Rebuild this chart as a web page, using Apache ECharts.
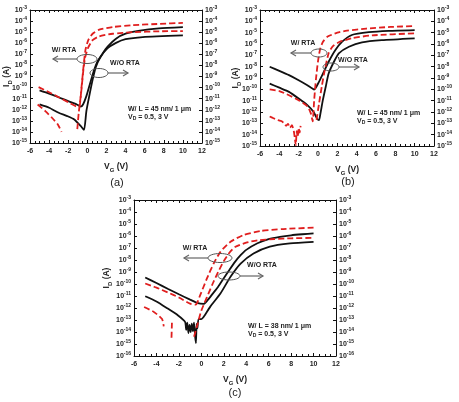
<!DOCTYPE html>
<html>
<head>
<meta charset="utf-8">
<script src="https://cdn.jsdelivr.net/npm/echarts@6/dist/echarts.min.js"></script>
<style>
  html, body { margin: 0; padding: 0; background: #fff; }
  #chart { width: 459px; height: 402px; }
</style>
</head>
<body>
<div id="chart"></div>
<script>
// ---- data: [VG (V), ID (A)] ----
// (a) W/L = 45 nm / 1 um
const aNoRta3V = [[-5, 5.6e-11], [-4, 2.9e-11], [-3, 1.35e-11], [-2, 5.9e-12], [-1.1, 3e-12], [-0.7, 1.9e-12], [-0.45, 3e-12], [-0.1, 1.7e-11], [0.25, 1.8e-10], [0.6, 2e-9], [1.05, 2.2e-8], [1.6, 1.2e-7], [2.1, 4.7e-7], [3, 2.6e-6], [4, 7.3e-6], [5.5, 1.4e-5], [7.5, 2.2e-5], [10, 2.9e-5]];
const aNoRta05V = [[-5, 3e-12], [-4, 1.5e-12], [-3, 5.4e-13], [-2.1, 2.7e-13], [-1.4, 1.4e-13], [-0.7, 3.5e-14], [-0.35, 1.5e-14], [-0.1, 7.6e-13], [0.2, 1.7e-11], [0.55, 5e-10], [0.9, 7.8e-9], [1.4, 6e-8], [2.1, 3.4e-7], [3, 1.07e-6], [4, 2.3e-6], [5.8, 3.6e-6], [10, 5.1e-6]];
const aRta3V = [[-5.1, 1.1e-10], [-4, 3.8e-11], [-3, 1.35e-11], [-2, 4.8e-12], [-1.05, 1.9e-12], [-0.8, 2.4e-12], [-0.6, 1.3e-10], [-0.4, 7.8e-9], [-0.2, 2.4e-7], [0.1, 1.9e-6], [0.55, 7.2e-6], [1.25, 1.66e-5], [2.65, 2.9e-5], [4.8, 4.3e-5], [7.6, 5.6e-5], [10, 6.9e-5]];
const aRta05V = [[-5.2, 3e-12], [-4.4, 7.6e-13], [-3.7, 1.9e-13], [-3.1, 4.9e-14], [-2.7, 1e-14], [-2.5, null], [-1.05, 1.8e-14], [-0.9, 5.4e-13], [-0.65, 3.3e-11], [-0.45, 2e-9], [-0.25, 4.3e-8], [0.05, 3.4e-7], [0.55, 1.9e-6], [1.25, 4.2e-6], [2.65, 7.2e-6], [4.8, 1e-5], [7.6, 1.2e-5], [10, 1.26e-5]];

// (b) W/L = 45 nm / 1 um
const bNoRta3V = [[-5, 9.8e-9], [-4, 4.3e-9], [-3, 1.8e-9], [-2, 6.4e-10], [-1.1, 2.3e-10], [-0.4, 9.6e-11], [0.1, 4.6e-10], [0.6, 3.5e-9], [1.1, 2.7e-8], [1.8, 2.9e-7], [2.5, 1.6e-6], [3.5, 6.2e-6], [5.25, 1.1e-5], [7.3, 1.45e-5], [10, 1.7e-5]];
const bNoRta05V = [[-5, 3.2e-10], [-4, 1.4e-10], [-3, 6e-11], [-2, 1.55e-11], [-1.1, 4e-12], [-0.45, 1e-12], [-0.1, 2.6e-13], [0.1, 1.9e-13], [0.25, 7.2e-13], [0.5, 1.1e-11], [0.8, 1.7e-10], [1.1, 2.5e-9], [1.65, 2.7e-8], [2.15, 1.5e-7], [3.2, 5.7e-7], [4.55, 1.4e-6], [6.6, 2.2e-6], [10, 3.2e-6]];
const bRta3V = [[-5, 1e-10], [-4, 7e-11], [-3, 3e-11], [-2, 1.1e-11], [-1.1, 3.2e-12], [-0.75, 8e-13], [-0.55, 1.5e-13], [-0.4, 1e-11], [-0.2, 1e-9], [0, 3e-8], [0.2, 3e-7], [0.5, 1.5e-6], [1, 4.5e-6], [2, 1e-5], [3, 1.5e-5], [5, 2.3e-5], [7.5, 3.2e-5], [10, 3.8e-5]];
const bRta05V = [[-5, 4e-13], [-4.6, 2.8e-13], [-4.2, 2e-13], [-3.8, 1.6e-13], [-3.5, 1e-13], [-3.3, 6e-14], [-3.1, 9e-14], [-2.9, 4e-14], [-2.7, 7e-14], [-2.5, 2e-14], [-2.4, 5e-15], [-2.3, 1.2e-15], [-2.2, 2e-14], [-2.1, 6e-15], [-2, 4e-14], [-1.9, 1.5e-14], [-1.8, 6e-14], [-1.7, null], [-0.15, 2e-13], [0.1, 5e-12], [0.4, 2e-10], [0.7, 5e-9], [1.1, 1.5e-7], [1.5, 6e-7], [2.2, 1.5e-6], [3.5, 3.2e-6], [5.6, 5.8e-6], [10, 8.7e-6]];

// (c) W/L = 38 nm / 1 um
const cNoRta3V = [[-5, 3.5e-10], [-4, 1.2e-10], [-3, 4e-11], [-2, 1.4e-11], [-1, 5e-12], [-0.3, 2.5e-12], [0.2, 2.2e-12], [0.6, 5e-12], [1, 1.5e-11], [1.5, 6e-11], [2, 3e-10], [2.5, 1.5e-9], [3, 7e-9], [3.5, 2.5e-8], [4, 7e-8], [5, 2.5e-7], [6, 5.5e-7], [7, 8.5e-7], [8, 1.15e-6], [9, 1.4e-6], [10, 1.65e-6]];
const cNoRta05V = [[-5, 9.5e-12], [-4, 3.5e-12], [-3, 9e-13], [-2.1, 2.5e-13], [-1.45, 7e-14], [-1.35, 1.5e-14], [-1.25, 6e-14], [-1.15, 8e-15], [-1.05, 4e-14], [-0.95, 1e-14], [-0.85, 5e-14], [-0.75, 1.2e-14], [-0.65, 6e-14], [-0.55, 4e-15], [-0.48, 1.2e-15], [-0.42, 5e-14], [-0.35, 2e-14], [-0.25, 1.2e-13], [0, 1.2e-13], [0.2, 1.8e-13], [0.8, 1.3e-12], [1.7, 1.6e-11], [2.6, 4e-10], [3.5, 5e-9], [4.65, 3.5e-8], [6.1, 1.3e-7], [7.9, 2.4e-7], [10, 3.3e-7]];
const cRta3V = [[-5, 1.1e-10], [-4, 5e-11], [-3, 2e-11], [-2, 7.5e-12], [-1, 2.3e-12], [-0.5, 1.9e-12], [-0.1, 1.2e-11], [0.5, 2.9e-10], [1.1, 5.1e-9], [1.7, 4.8e-8], [2.6, 3.3e-7], [3.75, 1.2e-6], [5.25, 2.6e-6], [7.3, 3.8e-6], [10, 5e-6]];
const cRta05V = [[-5.1, 1.2e-12], [-4.2, 4.5e-13], [-3.5, 1.2e-13], [-3.35, 3e-14], [-3, null], [-2.62, 6e-14], [-2.66, 2.8e-15], [-2, null], [-0.65, 4e-15], [-0.3, 6e-14], [0, 6e-13], [0.5, 8e-12], [1, 1e-10], [1.5, 1e-9], [2, 8e-9], [2.5, 4e-8], [3, 1.2e-7], [4, 2.8e-7], [5, 4.3e-7], [6.5, 5.6e-7], [8, 6.4e-7], [10, 7e-7]];

const xTicks = { min: -6, max: 12, step: 2 };
const panelDecades = [[1e-15, 1e-3], [1e-15, 1e-3], [1e-16, 1e-3]];
const panelLabels = ['(a)', '(b)', '(c)'];
const devices = ['W/ L = 45 nm/ 1 \u03bcm', 'W/ L = 45 nm/ 1 \u03bcm', 'W/ L = 38 nm/ 1 \u03bcm'];

// ---- layout ----
const FONT = 'Liberation Sans, Arial, sans-serif';
const grids = [
  { left: 30, top: 10, width: 172, height: 133 },
  { left: 260, top: 10, width: 174, height: 136 },
  { left: 134, top: 200, width: 202, height: 156 }
];
const yNameGap = [17, 18, 21];

const tickRich = {
  b: { fontSize: 7, fontWeight: 'bold', color: '#222', fontFamily: FONT, lineHeight: 10 },
  s: { fontSize: 5, fontWeight: 'bold', color: '#222', fontFamily: FONT, lineHeight: 6, verticalAlign: 'top' }
};
function decadeLabel(v) {
  return '{b|10}{s|' + Math.round(Math.log10(v)) + '}';
}
const nameRich = {
  m: { fontSize: 8.5, fontWeight: 'bold', color: '#222', fontFamily: FONT, lineHeight: 12 },
  sub: { fontSize: 6, fontWeight: 'bold', color: '#222', fontFamily: FONT, lineHeight: 6, verticalAlign: 'bottom' }
};

const xAxes = [], yAxes = [];
grids.forEach(function (g, i) {
  const frameLine = { show: true, onZero: false, lineStyle: { color: '#111', width: 1 } };
  xAxes.push({
    type: 'value', gridIndex: i, position: 'bottom',
    min: xTicks.min, max: xTicks.max, interval: xTicks.step,
    axisLine: frameLine,
    axisTick: { inside: true, length: 3, lineStyle: { color: '#111' } },
    minorTick: { show: true, splitNumber: 4, length: 2, lineStyle: { color: '#111' } },
    splitLine: { show: false },
    axisLabel: { fontSize: 7, fontWeight: 'bold', color: '#222', fontFamily: FONT, margin: 5 },
    name: '{m|V}{sub|G}{m| (V)}', nameLocation: 'middle', nameGap: 18, nameMoveOverlap: false,
    nameTextStyle: { rich: nameRich }
  });
  xAxes.push({
    type: 'value', gridIndex: i, position: 'top',
    min: xTicks.min, max: xTicks.max, interval: xTicks.step,
    axisLine: frameLine,
    axisTick: { inside: true, length: 3, lineStyle: { color: '#111' } },
    minorTick: { show: true, splitNumber: 4, length: 2, lineStyle: { color: '#111' } },
    splitLine: { show: false },
    axisLabel: { show: false }
  });
  const ext = panelDecades[i];
  const nDec = Math.round(Math.log10(ext[1] / ext[0]));
  [ 'left', 'right' ].forEach(function (pos) {
    yAxes.push({
      type: 'log', logBase: 10, gridIndex: i, position: pos,
      min: ext[0], max: ext[1], splitNumber: nDec, interval: 1,
      axisLine: frameLine,
      axisTick: { inside: true, length: 3, lineStyle: { color: '#111' } },
      splitLine: { show: false },
      axisLabel: { formatter: decadeLabel, rich: tickRich, margin: 3 },
      name: pos === 'left' ? '{m|I}{sub|D}{m| (A)}' : '',
      nameLocation: 'middle', nameGap: yNameGap[i], nameMoveOverlap: false,
      nameTextStyle: { rich: nameRich }
    });
  });
});

const curves = [
  [aNoRta3V, aNoRta05V, aRta3V, aRta05V],
  [bNoRta3V, bNoRta05V, bRta3V, bRta05V],
  [cNoRta3V, cNoRta05V, cRta3V, cRta05V]
];
const series = [];
curves.forEach(function (set, i) {
  set.forEach(function (data, k) {
    const rta = k >= 2;
    series.push({
      type: 'line', xAxisIndex: 2 * i, yAxisIndex: 2 * i, data: data,
      showSymbol: false, symbol: 'none', smooth: 0.2, connectNulls: false,
      lineStyle: rta
        ? { color: '#e01e1e', width: 1.8, type: [6, 3] }
        : { color: '#111', width: 1.8 },
      z: rta ? 3 : 2
    });
  });
});

// ---- annotations: ellipses, arrows, texts ----
const graphic = [];
const txt = { fontSize: 7, fontWeight: 'bold', fill: '#222', fontFamily: FONT };
function ellipse(cx, cy, rx, ry) {
  graphic.push({ type: 'ellipse', shape: { cx: cx, cy: cy, rx: rx, ry: ry }, style: { fill: 'none', stroke: '#555', lineWidth: 1 }, z: 10 });
}
function arrow(x1, x2, y) {
  const d = x2 > x1 ? 1 : -1;
  graphic.push({ type: 'line', shape: { x1: x1, y1: y, x2: x2, y2: y }, style: { stroke: '#666', lineWidth: 1.2 }, z: 10 });
  graphic.push({ type: 'polyline', shape: { points: [[x2 - 5 * d, y - 3], [x2, y], [x2 - 5 * d, y + 3]] }, style: { stroke: '#666', lineWidth: 1.2, fill: 'none' }, z: 10 });
}
function label(x, y, text, align, extra) {
  graphic.push({ type: 'text', x: x, y: y, style: Object.assign({ text: text, textAlign: align || 'center', textVerticalAlign: 'middle' }, txt, extra || {}), z: 10 });
}
function vdLabel(x, y) {
  graphic.push({
    type: 'text', x: x, y: y, z: 10,
    style: {
      text: '{m|V}{sub|D}{m| = 0.5, 3 V}', textAlign: 'left', textVerticalAlign: 'middle',
      rich: {
        m: { fontSize: 7, fontWeight: 'bold', fill: '#222', fontFamily: FONT, lineHeight: 9 },
        sub: { fontSize: 5, fontWeight: 'bold', fill: '#222', fontFamily: FONT, lineHeight: 5, verticalAlign: 'bottom' }
      }
    }
  });
}

// (a)
ellipse(87, 59, 10, 4.5); arrow(77, 53, 59); label(64, 50, 'W/ RTA');
ellipse(99, 73, 9, 4.5); arrow(108, 128, 73); label(125, 63, 'W/O RTA');
label(128, 109, devices[0], 'left'); vdLabel(128, 117);
// (b)
ellipse(319, 53, 8, 4); arrow(311, 291, 53); label(303, 43, 'W/ RTA');
ellipse(331, 67, 8, 4); arrow(339, 359, 67); label(353, 60, 'W/O RTA');
label(357, 113, devices[1], 'left'); vdLabel(357, 121);
// (c)
ellipse(220, 258, 12, 4.5); arrow(208, 184, 258); label(195, 248, 'W/ RTA');
ellipse(229, 276, 11, 4); arrow(240, 263, 276); label(262, 265, 'W/O RTA');
label(248, 326, devices[2], 'left'); vdLabel(248, 334);

label(117, 183, panelLabels[0], 'center', { fontSize: 11, fontWeight: 'normal' });
label(348, 182, panelLabels[1], 'center', { fontSize: 11, fontWeight: 'normal' });
label(235, 393, panelLabels[2], 'center', { fontSize: 11, fontWeight: 'normal' });

const chart = echarts.init(document.getElementById('chart'), null, { renderer: 'canvas' });
chart.setOption({
  animation: false,
  backgroundColor: '#fff',
  grid: grids.map(function (g) { return Object.assign({ containLabel: false, outerBoundsMode: 'none' }, g); }),
  xAxis: xAxes,
  yAxis: yAxes,
  series: series,
  graphic: graphic
});
</script>
</body>
</html>
